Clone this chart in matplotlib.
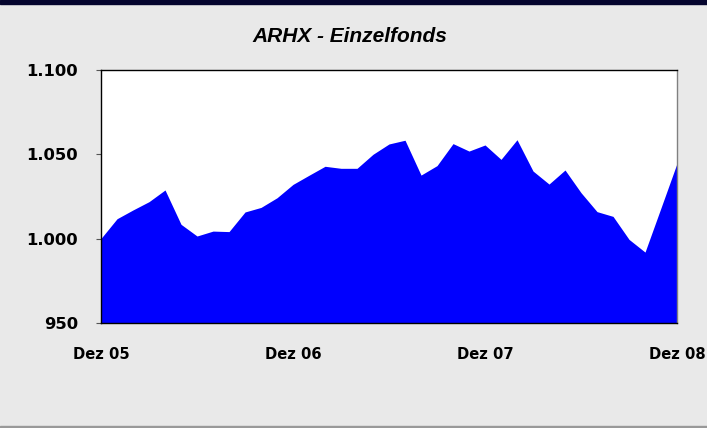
import numpy as np
import matplotlib.pyplot as plt
from matplotlib.patches import Rectangle

# monthly values, Dez 05 .. Dez 08
values = [1000.2, 1011.8, 1017.0, 1021.9, 1028.8, 1008.5, 1001.6, 1004.5, 1004.2,
          1015.8, 1018.5, 1024.2, 1032.1, 1037.5, 1042.8, 1041.6, 1041.6, 1049.9,
          1056.0, 1058.2, 1037.6, 1043.2, 1056.2, 1051.8, 1055.4, 1046.9, 1058.5,
          1040.0, 1032.3, 1040.6, 1027.2, 1016.0, 1013.2, 999.6, 992.1, 1018.3,
          1044.6]
x_labels = ['Dez 05', 'Dez 06', 'Dez 07', 'Dez 08']
y_ticks = [950, 1000, 1050, 1100]
y_labels = ['950', '1.000', '1.050', '1.100']

bg = '#e9e9e9'
fig = plt.figure(figsize=(7.07, 4.28), dpi=100, facecolor=bg)
ax = fig.add_axes([0.1429, 0.2446, 0.8147, 0.593])
ax.set_facecolor('white')

x = np.arange(len(values))
ax.fill_between(x, 950, values, color='#0000ff', linewidth=0)

ax.set_xlim(0, len(values) - 1)
ax.set_ylim(950, 1100)
ax.set_xticks([0, 12, 24, 36])
ax.set_xticklabels(x_labels, fontsize=10.6, fontweight='bold')
ax.set_yticks(y_ticks)
ax.set_yticklabels(y_labels, fontsize=11.8, fontweight='bold')
ax.tick_params(axis='x', length=0, pad=17)
ax.tick_params(axis='y', length=3.6, width=0.8, color='#555555', pad=13)

for side in ['left', 'bottom', 'top']:
    ax.spines[side].set_color('black')
    ax.spines[side].set_linewidth(1.0)
ax.spines['right'].set_color('#808080')
ax.spines['right'].set_linewidth(1.0)

fig.text(0.495, 0.9136, 'ARHX - Einzelfonds', ha='center', va='center',
         fontsize=15, fontweight='bold', style='italic', family='Liberation Sans')

# frame bands
fig.patches.append(Rectangle((0, 1 - 4 / 428), 1, 4 / 428, transform=fig.transFigure,
                             color='#05052e', zorder=5))
fig.patches.append(Rectangle((0, 0), 1, 2 / 428, transform=fig.transFigure,
                             color='#999999', zorder=5))

fig.savefig('out.png', dpi=100, facecolor=bg)
